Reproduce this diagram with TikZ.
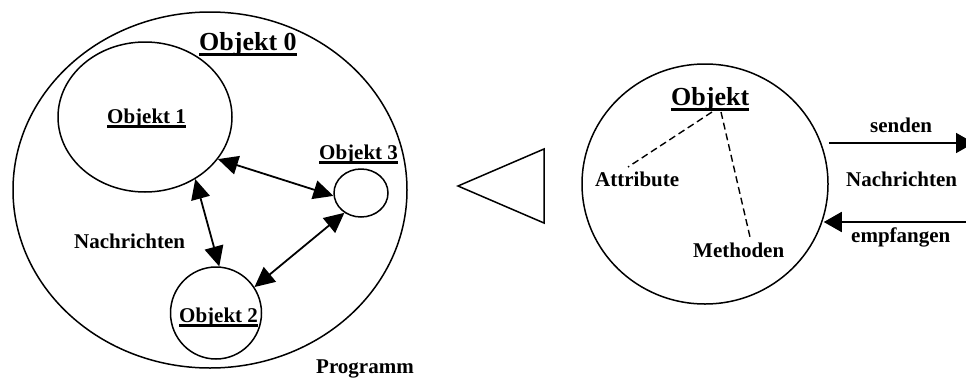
\documentclass[tikz,border=0pt]{standalone}
\usepackage{fontspec}
\setmainfont{Liberation Serif}
\usetikzlibrary{shapes.geometric,arrows.meta}

\tikzset{
  objshape/.style={draw, ellipse, line width=1.5pt, inner sep=0pt},
  lbl/.style={anchor=base west, inner sep=0pt, font=\bfseries\fontsize{21}{25}\selectfont},
  biglbl/.style={anchor=base west, inner sep=0pt, font=\bfseries\fontsize{26}{30}\selectfont},
  ulsmall/.style={line width=2.4pt},
  ulbig/.style={line width=3pt},
  msg/.style={line width=1.8pt, {Triangle[length=20pt,width=19pt]}-{Triangle[length=20pt,width=19pt]}},
  msgone/.style={line width=1.8pt, -{Triangle[length=18pt,width=20pt]}},
  dashline/.style={line width=1.4pt, dash pattern=on 7pt off 4pt}
}

\begin{document}
\begin{tikzpicture}[x=1pt,y=-1pt]
\useasboundingbox (0,0) rectangle (966,378);

% ---- program: objects exchanging messages ----
\node[objshape, minimum width=394pt, minimum height=356pt] (prog) at (210,190) {};
\node[objshape, minimum width=174pt, minimum height=150pt] (o1) at (145,117) {};
\node[objshape, minimum width=54pt, minimum height=48pt] (o3) at (361,193) {};
\node[objshape, minimum width=91pt, minimum height=92pt] (o2) at (216,313) {};

\node[biglbl] (o0lbl) at (199,50) {Objekt 0};
\draw[ulbig] ([yshift=-4pt]o0lbl.base west) -- ([yshift=-4pt]o0lbl.base east);
\node[lbl] (o1lbl) at (107,123) {Objekt 1};
\draw[ulsmall] ([yshift=-3.5pt]o1lbl.base west) -- ([yshift=-3.5pt]o1lbl.base east);
\node[lbl] (o3lbl) at (319,159) {Objekt 3};
\draw[ulsmall] ([yshift=-3.5pt]o3lbl.base west) -- ([yshift=-3.5pt]o3lbl.base east);
\node[lbl] (o2lbl) at (179,322) {Objekt 2};
\draw[ulsmall] ([yshift=-3.5pt]o2lbl.base west) -- ([yshift=-3.5pt]o2lbl.base east);

\node[lbl] (msgl) at (74,248) {Nachrichten};
\node[lbl] (proglbl) at (316,373) {Programm};

\draw[msg] (o1.-30) -- (o3.186);
\draw[msg] (o1.-51) -- (o2.86);
\draw[msg] (o3.-130) -- (o2.34);

% ---- arrow head pointing to the single object ----
\draw[line width=1.5pt] (458,186) -- (544,149) -- (544,223) -- cycle;

% ---- single object with attributes and methods ----
\node[objshape, minimum width=246pt, minimum height=240pt] (obj) at (705,184) {};
\node[biglbl] (objlbl) at (671,105) {Objekt};
\draw[ulbig] ([yshift=-4.5pt]objlbl.base west) -- ([yshift=-4.5pt]objlbl.base east);
\node[lbl] (attr) at (595,186) {Attribute};
\node[lbl] (meth) at (693,257) {Methoden};

\coordinate (dA) at (712,112);
\coordinate (dM) at (721,112);
\coordinate (attrTop) at (628,167);
\coordinate (methTop) at (750,237);
\draw[dashline] (dA) -- (attrTop);
\draw[dashline] (dM) -- (methTop);

% ---- messages sent and received ----
\node[lbl] (sendlbl) at (870,132) {senden};
\node[lbl] (msgr) at (846,186) {Nachrichten};
\node[lbl] (recvlbl) at (851,242) {empfangen};

\coordinate (sendR) at (974,143);
\coordinate (recvR) at (975,222);
\draw[msgone] (obj.east |- sendR) -- (sendR);
\draw[msgone] (recvR) -- ([xshift=-5pt]obj.east |- recvR);
\end{tikzpicture}
\end{document}
